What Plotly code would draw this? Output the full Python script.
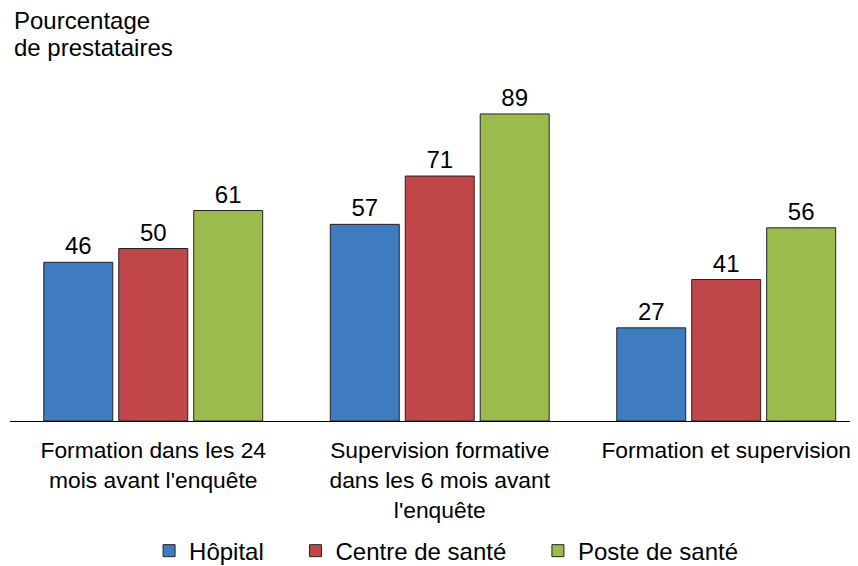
import plotly.graph_objects as go

# Données
categories = [
    "Formation dans les 24<br>mois avant l'enquête",
    "Supervision formative<br>dans les 6 mois avant<br>l'enquête",
    "Formation et supervision",
]
hopital = [46, 57, 27]
centre_sante = [50, 71, 41]
poste_sante = [61, 89, 56]

NBSP = "\u00a0"
series = [
    ("Hôpital" + NBSP * 4, hopital, "#3F7CBF"),
    ("Centre de santé" + NBSP * 4, centre_sante, "#C0464A"),
    ("Poste de santé", poste_sante, "#9BBB4F"),
]

FONT = "Liberation Sans, Arial, sans-serif"

fig = go.Figure()
for nom, valeurs, couleur in series:
    fig.add_trace(go.Bar(
        x=categories,
        y=valeurs,
        name=nom,
        marker=dict(color=couleur, line=dict(color="#222222", width=1)),
        text=[str(v) for v in valeurs],
        textposition="outside",
        textfont=dict(size=24, color="black"),
        cliponaxis=False,
    ))

# Titre de l'axe vertical, sur deux lignes placées séparément (interligne serré)
for texte, y in [("Pourcentage", 1.162), ("de prestataires", 1.084)]:
    fig.add_annotation(
        text=texte, xref="paper", yref="paper",
        x=0, y=y, xanchor="left", yanchor="middle", xshift=2,
        showarrow=False, font=dict(size=24, color="black"),
    )

# La page ajoute une marge de 8 px autour de la figure : on la compense ici
fig.update_layout(
    width=850,
    height=558,
    font=dict(family=FONT, size=24, color="black"),
    paper_bgcolor="white",
    plot_bgcolor="white",
    margin=dict(l=2, r=0, t=68, b=145, autoexpand=False),
    barmode="group",
    bargap=0.215,
    bargroupgap=0.08,
    xaxis=dict(
        range=[-0.5, 2.46],
        showline=True, linecolor="black", linewidth=1,
        ticks="", showgrid=False,
        tickfont=dict(size=22.8),
        ticklabelstandoff=9,
    ),
    yaxis=dict(range=[0, 100], visible=False, showgrid=False),
    legend=dict(
        orientation="h",
        x=0.164, xanchor="left",
        y=-0.377, yanchor="middle",
        font=dict(size=24),
    ),
    showlegend=True,
)

fig.write_html("out.html")
